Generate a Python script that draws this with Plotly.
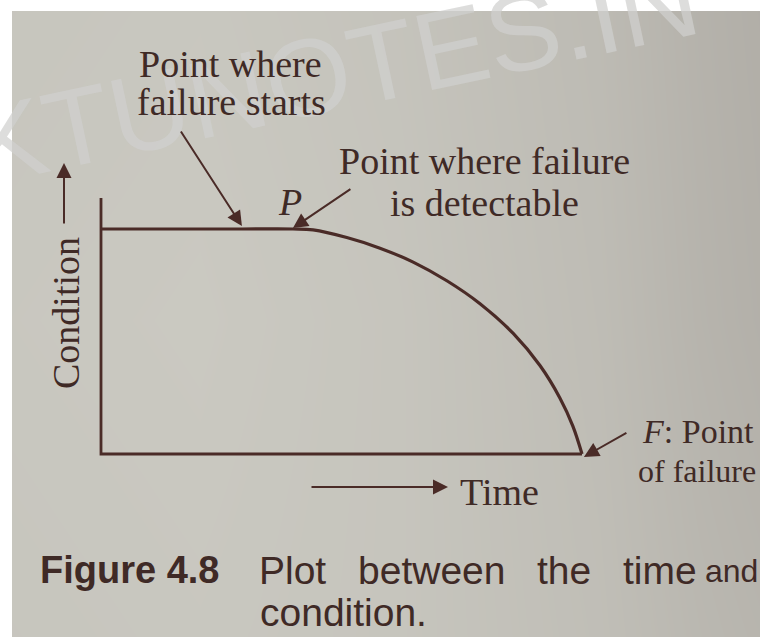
import plotly.graph_objects as go

W, H = 760, 637

# Condition-vs-time curve (time and condition in arbitrary units)
time_vals = [0.0, 2.93, 3.99, 4.41, 5.11, 5.80, 6.49, 7.19, 7.88, 8.57, 9.13, 9.54, 9.81, 10.0]
cond_vals = [10.0, 10.0, 10.0, 9.96, 9.62, 9.15, 8.53, 7.70, 6.68, 5.36, 3.92, 2.49, 1.24, 0.0]

# Frame of the plot: vertical condition axis and horizontal time axis
axis_x = [0.0, 0.0, 10.0]
axis_y = [11.38, 0.0, 0.0]

# Paper shading (light to dark, 0..1) across the page
shade_cols = [-40, 200, 400, 600, 700, 800]
shade_rows = [-40, 320, 680]
shade_z = [
    [0.85, 0.90, 0.80, 0.60, 0.40, 0.25],
    [0.90, 0.95, 0.85, 0.65, 0.45, 0.30],
    [0.85, 0.90, 0.85, 0.70, 0.55, 0.45],
]

INK = "#3f2a26"
LINE = "#4a2b27"
SERIF = "Liberation Serif, Times New Roman, serif"
SANS = "Liberation Sans, Arial, sans-serif"


def px(x):
    return x / W


def py(y):
    return 1 - y / H


fig = go.Figure()

fig.add_trace(go.Heatmap(
    x=shade_cols, y=shade_rows, z=shade_z, zsmooth="best",
    colorscale=[[0, "rgb(165,161,155)"], [1, "rgb(204,203,195)"]],
    zmin=0, zmax=1, showscale=False, hoverinfo="skip",
    xaxis="x", yaxis="y",
))

fig.add_trace(go.Scatter(
    x=axis_x, y=axis_y, mode="lines",
    line=dict(color=LINE, width=2.8),
    xaxis="x2", yaxis="y2", hoverinfo="skip", showlegend=False,
))

fig.add_trace(go.Scatter(
    x=time_vals, y=cond_vals, mode="lines",
    line=dict(color=LINE, width=3.2, shape="spline", smoothing=1.0),
    xaxis="x2", yaxis="y2", hoverinfo="skip", showlegend=False,
))

annotations = []

# faint site stamp across the top of the page
annotations.append(dict(
    text="KTUNOTES.IN", xref="paper", yref="paper", x=px(335), y=py(72),
    showarrow=False, textangle=-12,
    font=dict(family=SANS, size=110, color="rgba(208,208,206,0.72)"),
    xanchor="center", yanchor="middle",
))


def label(text, x, y, size=38, anchor="center", family=SERIF, color=INK, angle=0):
    annotations.append(dict(
        text=text, xref="paper", yref="paper", x=px(x), y=py(y),
        showarrow=False, xanchor=anchor, yanchor="middle", textangle=angle,
        font=dict(family=family, size=size, color=color),
    ))


def arrow(x, y, ax, ay, xref="x2", yref="y2", width=2.0, size=1.5):
    annotations.append(dict(
        text="", x=x, y=y, xref=xref, yref=yref, ax=ax, ay=ay,
        showarrow=True, arrowhead=2, arrowsize=size, arrowwidth=width,
        arrowcolor=LINE,
    ))


label("Point where", 230, 64)
label("failure starts", 231, 102)
label("Point where failure", 484, 161)
label("is detectable", 484, 203)
label("<i>P</i>", 290, 202)
label("Time", 458, 492, anchor="left")
label("<i>F</i>: Point", 640, 431, size=34, anchor="left")
label("of failure", 636, 471, size=32, anchor="left")
label("Condition", 66, 313, angle=-90)

# caption
label("<b>Figure 4.8</b>", 38, 570, size=38, anchor="left", family=SANS)
for word, left in [("Plot", 257), ("between", 356), ("the", 535), ("time", 621)]:
    label(word, left, 570, size=39, anchor="left", family=SANS)
label("and", 703, 571, size=32, anchor="left", family=SANS)
label("condition.", 258, 612, size=39, anchor="left", family=SANS)

# pointers onto the curve
arrow(2.93, 10.13, -62, -96)          # failure starts
arrow(3.99, 10.04, 59, -40)           # P: failure detectable
arrow(10.04, -0.13, 44, -25)          # F: point of failure

# direction arrows next to the axis titles
arrow(px(448), py(487), -138, 0, xref="paper", yref="paper")
arrow(px(64), py(163), 0, 62, xref="paper", yref="paper")

# white page margin along the left and top
shapes = [
    dict(type="rect", xref="paper", yref="paper", x0=0, x1=12 / W, y0=0, y1=1,
         fillcolor="white", line=dict(width=0), layer="above"),
    dict(type="rect", xref="paper", yref="paper", x0=0, x1=1, y0=1 - 11 / H, y1=1,
         fillcolor="white", line=dict(width=0), layer="above"),
]

fig.update_layout(
    width=W, height=H, autosize=False,
    margin=dict(l=0, r=0, t=0, b=0, pad=0),
    paper_bgcolor="rgb(174,170,164)", plot_bgcolor="rgba(0,0,0,0)",
    showlegend=False,
    annotations=annotations,
    shapes=shapes,
    xaxis=dict(domain=[0, 1], range=[0, 760], visible=False, fixedrange=True),
    yaxis=dict(domain=[0, 1], range=[637, 0], visible=False, fixedrange=True),
    xaxis2=dict(domain=[0, 1], range=[-101 / 48.1, 659 / 48.1], visible=False,
                anchor="y2", fixedrange=True),
    yaxis2=dict(domain=[0, 1], range=[(454 - 637) / 22.5, 454 / 22.5], visible=False,
                anchor="x2", fixedrange=True),
)

fig.write_html("out.html")
